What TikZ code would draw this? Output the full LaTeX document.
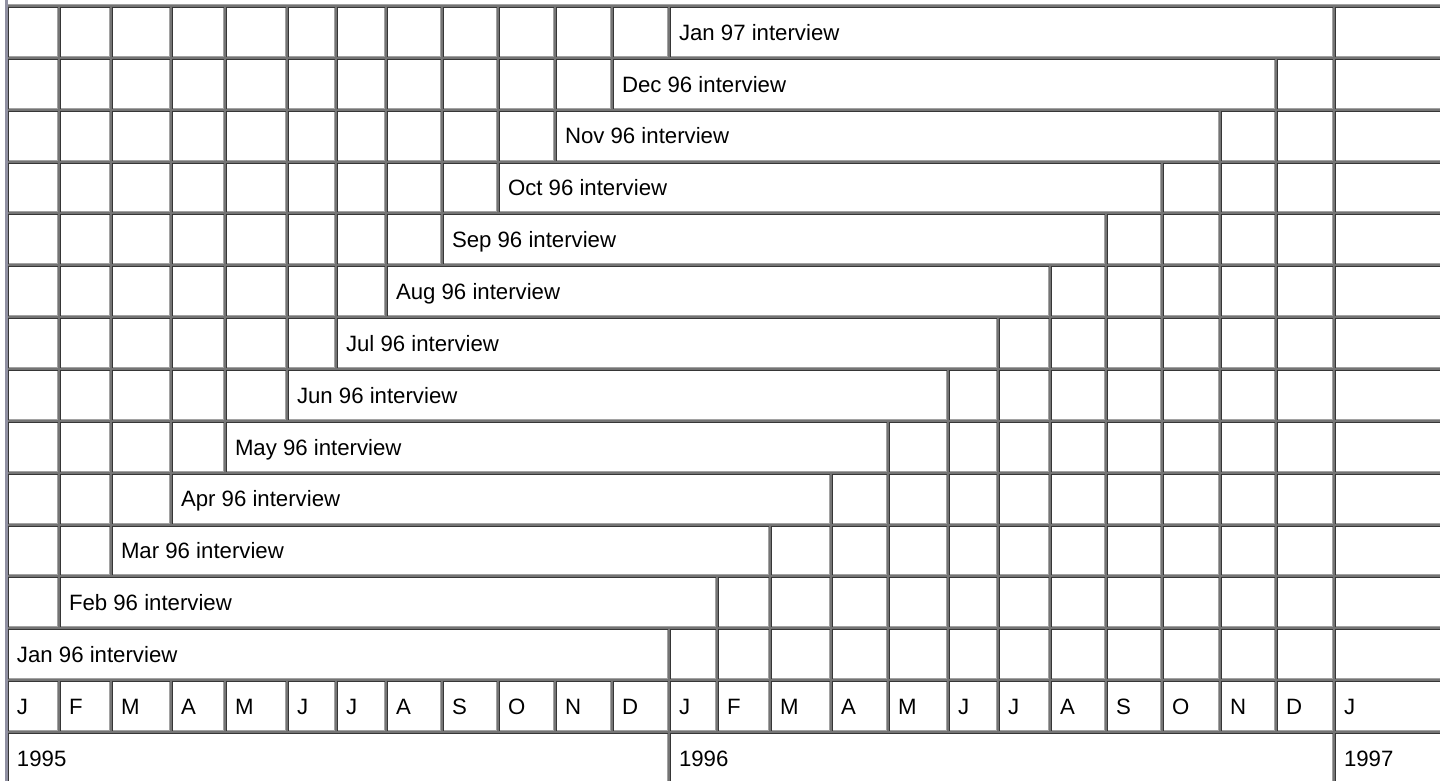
\documentclass[tikz,border=0pt]{standalone}
\usepackage{fontspec}
\setmainfont{Liberation Sans}

\definecolor{cellDark}{HTML}{363636}
\definecolor{cellLight}{HTML}{A2A2A2}
\definecolor{cellGap}{HTML}{747474}
\definecolor{tblEdge}{HTML}{9090A2}

% column edges (px) and row pitch
\def\xsep{{7,59,111,171,225,287,336,386,442,498,555,612,669,717,770,831,888,948,998,1050,1106,1162,1220,1276,1334,1470}}
\def\ytop{6}
\def\ypitch{51.85}

% one sunken cell: columns #1..#2, rows #3..#4
\newcommand{\tblcell}[4]{%
  \pgfmathsetmacro\xa{\xsep[#1]+1}
  \pgfmathsetmacro\xb{\xsep[#2]-1}
  \pgfmathsetmacro\ya{\ytop+\ypitch*(#3)+1}
  \pgfmathsetmacro\yb{\ytop+\ypitch*(#4)-1}
  \fill[white] (\xa,\ya) rectangle (\xb,\yb);
  \draw[cellDark] (\xa+0.5,\yb) -- (\xa+0.5,\ya+0.5) -- (\xb,\ya+0.5);
  \draw[cellLight] (\xb-0.5,\ya+1) -- (\xb-0.5,\yb-0.5) -- (\xa+1,\yb-0.5);
}

% text of a cell: name #1, column #2, row #3
\newcommand{\tbltext}[4]{%
  \pgfmathsetmacro\xt{\xsep[#2]+9.5}
  \pgfmathsetmacro\yt{\ytop+\ypitch*(#3+0.5)+8.3}
  \node[celltext] (#1) at (\xt,\yt) {#4};
}

\begin{document}
\begin{tikzpicture}[x=0.5pt, y=-0.5pt, line width=0.5pt,
  celltext/.style={anchor=base west, inner sep=0pt, font=\fontsize{11.1}{13}\selectfont}]
\useasboundingbox (0,0) rectangle (1440,781);
\clip (0,0) rectangle (1440,781);

% table frame and cell spacing
\fill[cellGap] (8,4) rectangle (1440,781);
\fill[tblEdge] (5,0) rectangle (8,781);
\draw[cellLight] (8,4.5) -- (1440,4.5);

% interview rows
\foreach \r/\lab in {0/Jan 97,1/Dec 96,2/Nov 96,3/Oct 96,4/Sep 96,5/Aug 96,6/Jul 96,
                     7/Jun 96,8/May 96,9/Apr 96,10/Mar 96,11/Feb 96,12/Jan 96}{
  \pgfmathtruncatemacro\s{12-\r}
  \pgfmathtruncatemacro\e{\s+11}
  \foreach \c in {0,...,24}{
    \ifnum\c<\s\relax \tblcell{\c}{\c+1}{\r}{\r+1}\fi
    \ifnum\c>\e\relax \tblcell{\c}{\c+1}{\r}{\r+1}\fi
  }
  \tblcell{\s}{\s+12}{\r}{\r+1}
  \tbltext{int\r}{\s}{\r}{\lab\ interview}
}

% months
\foreach \m [count=\c from 0] in {J,F,M,A,M,J,J,A,S,O,N,D,J,F,M,A,M,J,J,A,S,O,N,D,J}{
  \tblcell{\c}{\c+1}{13}{14}
  \tbltext{m\c}{\c}{13}{\m}
}

% years
\foreach \c/\n/\yr in {0/12/1995,12/24/1996,24/25/1997}{
  \tblcell{\c}{\n}{14}{15}
  \tbltext{y\yr}{\c}{14}{\yr}
}
\end{tikzpicture}
\end{document}
